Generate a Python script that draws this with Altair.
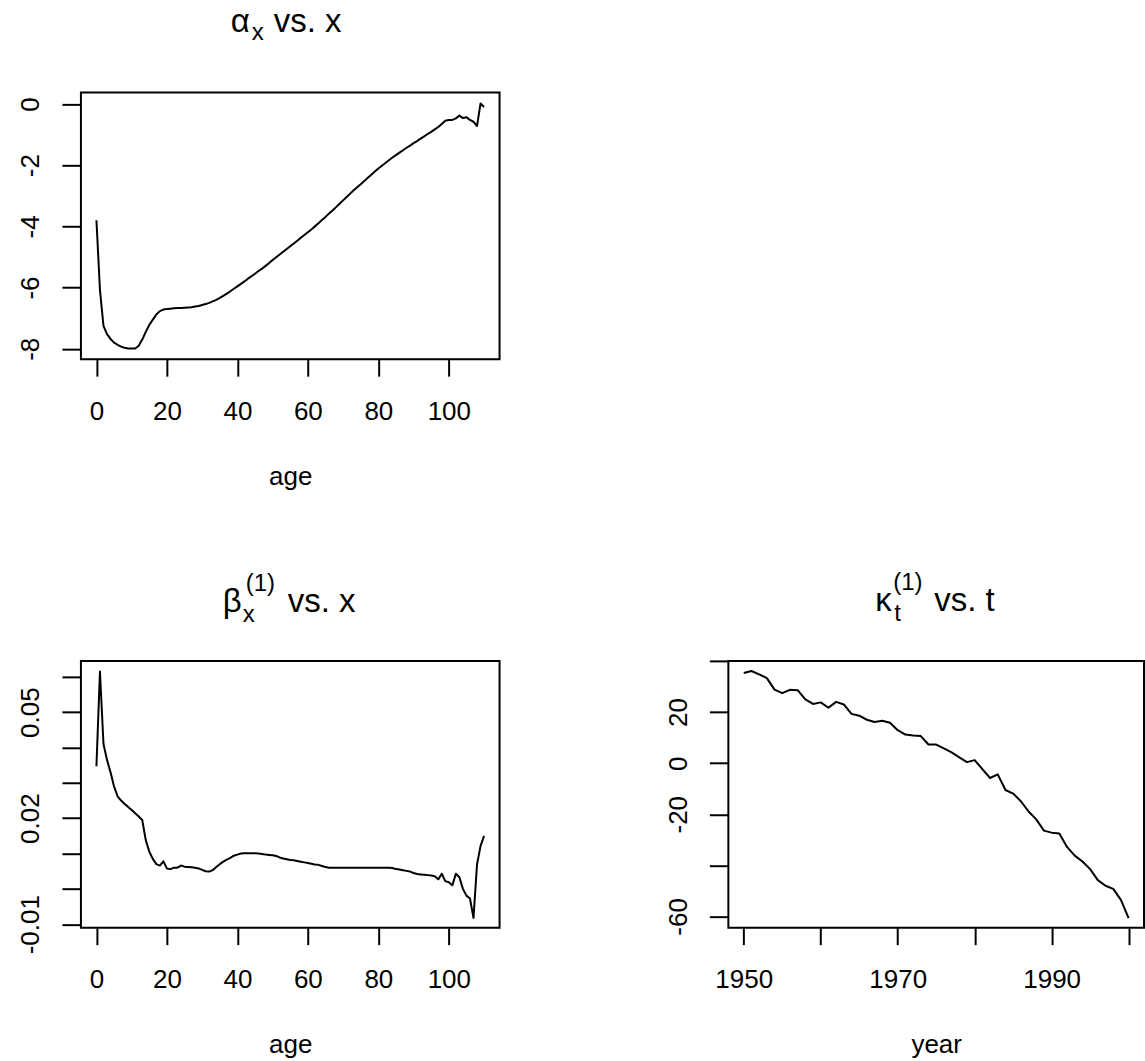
import altair as alt
import pandas as pd

# ---- fitted Lee-Carter parameters -------------------------------------
AGES = list(range(0, 111))

ALPHA = [
    -3.80, -6.08, -7.25, -7.52, -7.68, -7.80, -7.87, -7.93, -7.97, -7.99,
    -7.99, -7.99, -7.90, -7.70, -7.45, -7.22, -7.05, -6.88, -6.77, -6.72,
    -6.70, -6.69, -6.68, -6.67, -6.67, -6.66, -6.65, -6.64, -6.62, -6.60,
    -6.57, -6.54, -6.50, -6.45, -6.40, -6.34, -6.27, -6.20, -6.12, -6.04,
    -5.96, -5.88, -5.80, -5.71, -5.63, -5.55, -5.46, -5.38, -5.29, -5.20,
    -5.10, -5.01, -4.92, -4.83, -4.74, -4.65, -4.56, -4.47, -4.37, -4.28,
    -4.19, -4.10, -4.00, -3.90, -3.79, -3.69, -3.58, -3.48, -3.37, -3.26,
    -3.15, -3.04, -2.93, -2.82, -2.72, -2.62, -2.52, -2.41, -2.31, -2.21,
    -2.11, -2.02, -1.93, -1.84, -1.75, -1.67, -1.59, -1.51, -1.43, -1.36,
    -1.28, -1.21, -1.13, -1.06, -0.98, -0.91, -0.83, -0.75, -0.65, -0.55,
    -0.52, -0.52, -0.47, -0.38, -0.46, -0.43, -0.52, -0.58, -0.72, 0.02,
    -0.10,
]

BETA = [
    0.0347, 0.0615, 0.0410, 0.0365, 0.0330, 0.0290, 0.0262, 0.0250, 0.0240, 0.0232,
    0.0223, 0.0214, 0.0205, 0.0195, 0.0138, 0.0105, 0.0085, 0.0070, 0.0066, 0.0078,
    0.0058, 0.0056, 0.0060, 0.0060, 0.0066, 0.0063, 0.0062, 0.0061, 0.0060, 0.0058,
    0.0054, 0.0050, 0.0049, 0.0053, 0.0062, 0.0070, 0.0077, 0.0083, 0.0088, 0.0094,
    0.0097, 0.0100, 0.0101, 0.0101, 0.0101, 0.0101, 0.0100, 0.0099, 0.0097, 0.0096,
    0.0095, 0.0093, 0.0089, 0.0086, 0.0084, 0.0082, 0.0081, 0.0079, 0.0077, 0.0075,
    0.0073, 0.0071, 0.0069, 0.0068, 0.0065, 0.0062, 0.0060, 0.0060, 0.0060, 0.0060,
    0.0060, 0.0060, 0.0060, 0.0060, 0.0060, 0.0060, 0.0060, 0.0060, 0.0060, 0.0060,
    0.0060, 0.0060, 0.0060, 0.0060, 0.0059, 0.0056, 0.0055, 0.0053, 0.0051, 0.0049,
    0.0045, 0.0042, 0.0041, 0.0040, 0.0039, 0.0038, 0.0036, 0.0027, 0.0043, 0.0022,
    0.0019, 0.0010, 0.0043, 0.0033, 0.0000, -0.0019, -0.0027, -0.0082, 0.0069, 0.0121,
    0.0150,
]

YEARS = list(range(1950, 2001))

KAPPA = [
    35.3, 36.1, 34.8, 33.3, 28.8, 27.4, 28.7, 28.6, 25.0, 23.2,
    23.8, 21.7, 24.0, 23.0, 19.3, 18.6, 17.0, 16.1, 16.6, 15.8,
    12.9, 11.2, 10.8, 10.6, 7.3, 7.3, 5.8, 4.2, 2.3, 0.4,
    1.2, -2.3, -5.8, -4.4, -10.5, -11.9, -14.9, -18.9, -22.0, -26.4,
    -27.2, -27.5, -32.8, -36.2, -38.5, -41.5, -45.8, -48.0, -49.2, -53.5,
    -60.7,
]

# ---- axis ticks and the labels printed next to them ---------------------
AGE_TICKS = [0, 20, 40, 60, 80, 100]
AGE_LABELS = [(0, "0"), (20, "20"), (40, "40"), (60, "60"), (80, "80"), (100, "100")]
ALPHA_TICKS = [0, -2, -4, -6, -8]
ALPHA_LABELS = [(0, "0"), (-2, "-2"), (-4, "-4"), (-6, "-6"), (-8, "-8")]
BETA_TICKS = [-0.01, 0.0, 0.01, 0.02, 0.03, 0.04, 0.05, 0.06]
BETA_LABELS = [(0.05, "0.05"), (0.02, "0.02"), (-0.01, "-0.01")]
YEAR_TICKS = [1950, 1960, 1970, 1980, 1990, 2000]
YEAR_LABELS = [(1950, "1950"), (1970, "1970"), (1990, "1990")]
KAPPA_TICKS = [-60, -40, -20, 0, 20, 40]
KAPPA_LABELS = [(20, "20"), (0, "0"), (-20, "-20"), (-60, "-60")]

FONT = "Liberation Sans"
TICK_FONT = 26
MAIN_FONT = 33
SCRIPT_FONT = 24


def label_expr(pairs):
    expr = "''"
    for value, text in reversed(pairs):
        expr = f"datum.value == {value!r} ? '{text}' : {expr}"
    return expr


def x_axis(ticks, labels, title):
    return alt.Axis(
        values=ticks, labelExpr=label_expr(labels), title=title,
        tickSize=17, labelPadding=43, labelBaseline="alphabetic",
        labelAlign="center", titleY=125, titleBaseline="alphabetic",
    )


def y_axis(ticks, labels):
    return alt.Axis(
        values=ticks, labelExpr=label_expr(labels), title=None,
        tickSize=19, labelPadding=23, labelAngle=270,
        labelAlign="center", labelBaseline="alphabetic",
    )


def piece(text, x, y, size):
    return (
        alt.Chart(pd.DataFrame({"label": [text]}))
        .mark_text(align="left", baseline="alphabetic", font=FONT,
                   fontSize=size, color="black")
        .encode(text="label:N", x=alt.value(x), y=alt.value(y))
    )


def panel(df, xf, yf, xdom, ydom, xaxis, yaxis, pieces, width, height):
    line = (
        alt.Chart(df)
        .mark_line(color="black", strokeWidth=2, strokeJoin="round")
        .encode(
            x=alt.X(f"{xf}:Q", scale=alt.Scale(domain=xdom, nice=False, zero=False), axis=xaxis),
            y=alt.Y(f"{yf}:Q", scale=alt.Scale(domain=ydom, nice=False, zero=False), axis=yaxis),
        )
    )
    return alt.layer(line, *pieces).properties(width=width, height=height)


alpha_df = pd.DataFrame({"age": AGES, "alpha": ALPHA})
beta_df = pd.DataFrame({"age": AGES, "beta": BETA})
kappa_df = pd.DataFrame({"year": YEARS, "kappa": KAPPA})

alpha_panel = panel(
    alpha_df, "age", "alpha", [-4.4, 114.4], [-8.34, 0.38],
    x_axis(AGE_TICKS, AGE_LABELS, "age"), y_axis(ALPHA_TICKS, ALPHA_LABELS),
    [
        piece("α", 150, -60, MAIN_FONT),
        piece("x", 171, -52, SCRIPT_FONT),
        piece("vs. x", 193, -60, MAIN_FONT),
    ],
    419, 267,
)

beta_panel = panel(
    beta_df, "age", "beta", [-4.4, 114.4], [-0.01096, 0.0645],
    x_axis(AGE_TICKS, AGE_LABELS, "age"), y_axis(BETA_TICKS, BETA_LABELS),
    [
        piece("β", 142, -49, MAIN_FONT),
        piece("x", 162, -39, SCRIPT_FONT),
        piece("(1)", 165, -70, SCRIPT_FONT),
        piece("vs. x", 207, -49, MAIN_FONT),
    ],
    419, 267,
)

kappa_panel = panel(
    kappa_df, "year", "kappa", [1948, 2002], [-64.4, 40.05],
    x_axis(YEAR_TICKS, YEAR_LABELS, "year"), y_axis(KAPPA_TICKS, KAPPA_LABELS),
    [
        piece("κ", 147, -50, MAIN_FONT),
        piece("t", 166, -40, SCRIPT_FONT),
        piece("(1)", 165, -71, SCRIPT_FONT),
        piece("vs. t", 206, -50, MAIN_FONT),
    ],
    416, 267,
)

bottom_row = alt.hconcat(beta_panel, kappa_panel, spacing=229, bounds="flush")

chart = (
    alt.vconcat(alpha_panel, bottom_row, spacing=302, bounds="flush")
    .properties(padding={"left": 16, "top": 5, "right": 0, "bottom": 0},
                background="white")
    .configure_view(stroke="black", strokeWidth=2)
    .configure_axis(
        domain=False, grid=False, ticks=True, tickColor="black", tickWidth=2,
        labelColor="black", labelFont=FONT, labelFontSize=TICK_FONT,
        labelOverlap=False, labelFlush=False,
        titleColor="black", titleFont=FONT, titleFontSize=TICK_FONT,
        titleFontWeight="normal",
    )
)

chart.save("out.html", embed_options={"renderer": "svg", "actions": False})
